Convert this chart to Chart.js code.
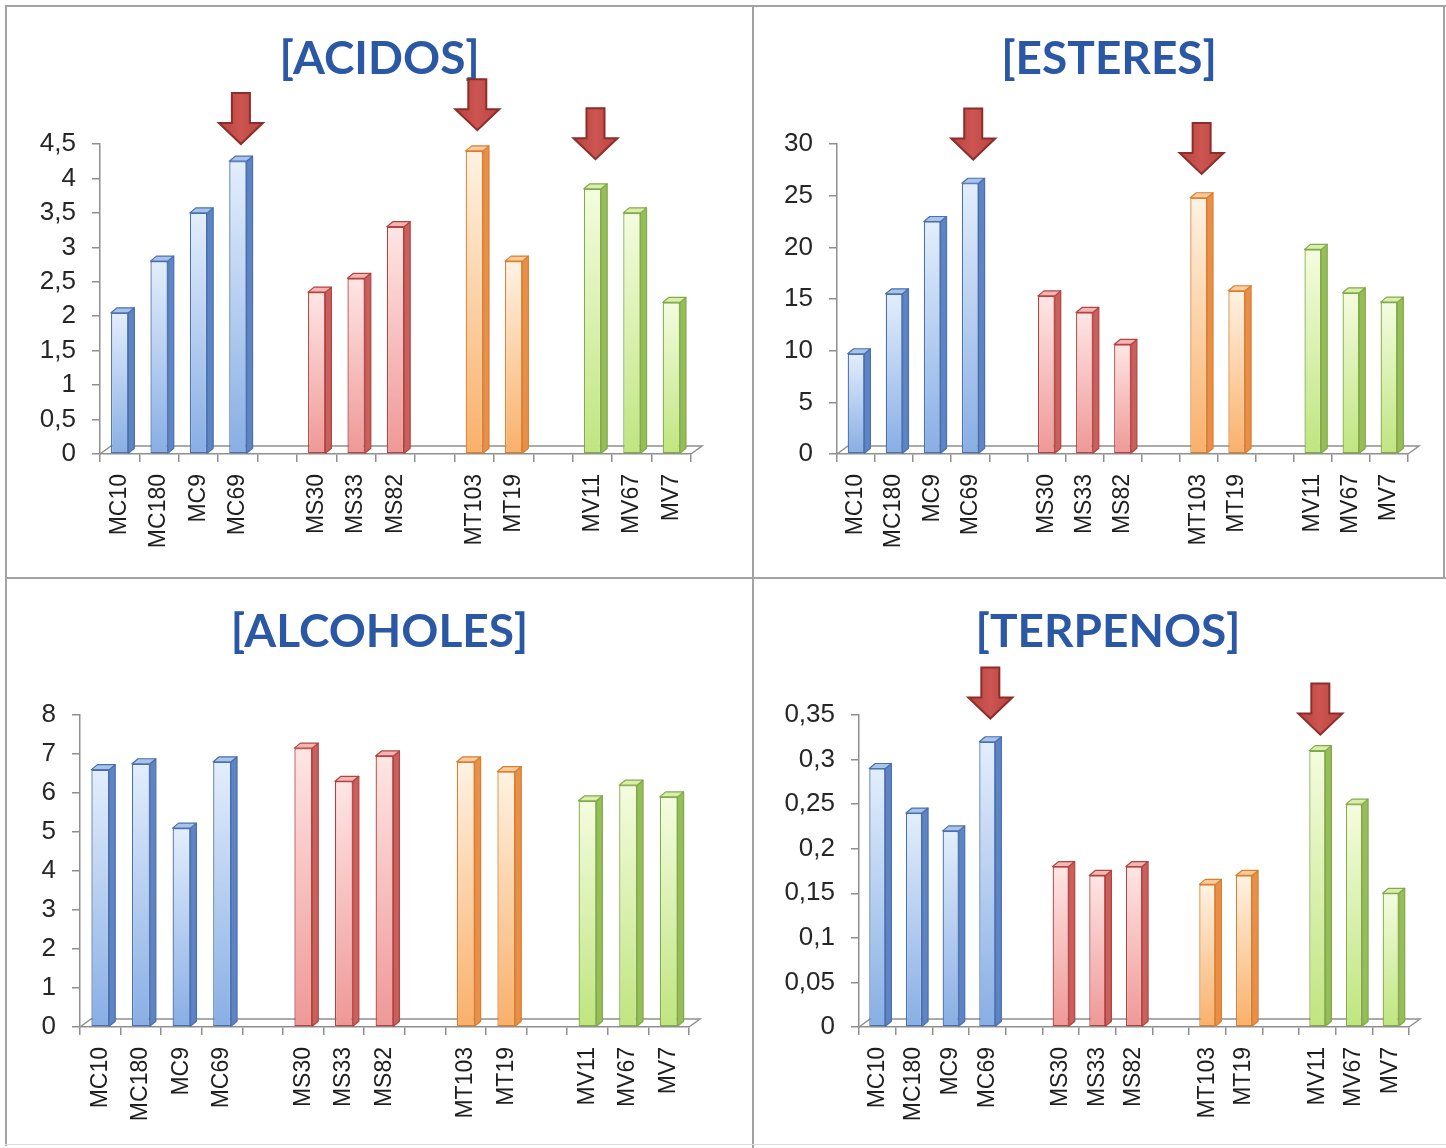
<!DOCTYPE html>
<html>
<head>
<meta charset="utf-8">
<script src="https://cdn.jsdelivr.net/npm/chart.js@4.4.1/dist/chart.umd.min.js"></script>
<style>
  html, body { margin: 0; padding: 0; background: #fff; overflow: hidden; }
  #page { position: relative; width: 1446px; height: 1148px; background: #fff; }
  .panel { position: absolute; }
  .panel canvas { display: block; }
  .rule { position: absolute; background: #a3a3a3; }
</style>
</head>
<body>
<div id="page">
  <div class="panel" style="left:7px;top:7px"><canvas id="acidos" width="745" height="570"></canvas></div>
  <div class="panel" style="left:754px;top:7px"><canvas id="esteres" width="690" height="570"></canvas></div>
  <div class="panel" style="left:7px;top:580px"><canvas id="alcoholes" width="745" height="566"></canvas></div>
  <div class="panel" style="left:754px;top:580px"><canvas id="terpenos" width="690" height="566"></canvas></div>

  <div class="rule" style="left:5px;top:5px;width:1441px;height:2px"></div>
  <div class="rule" style="left:5px;top:5px;width:2px;height:1141px"></div>
  <div class="rule" style="left:752px;top:5px;width:2px;height:1143px"></div>
  <div class="rule" style="left:5px;top:577px;width:1441px;height:2px"></div>
  <div class="rule" style="left:1443px;top:5px;width:2px;height:572px"></div>
  <div class="rule" style="left:5px;top:1144px;width:1441px;height:1px;background:#dcdcdc"></div>
</div>

<script>
// Strains, grouped by prefix; empty labels leave a gap between groups
const categories = ['MC10', 'MC180', 'MC9', 'MC69', '', 'MS30', 'MS33', 'MS82', '', 'MT103', 'MT19', '', 'MV11', 'MV67', 'MV7'];

// Concentrations per family of compounds
const acidos    = [2.05, 2.8, 3.5, 4.25, null, 2.35, 2.55, 3.3, null, 4.4, 2.8, null, 3.85, 3.5, 2.2];
const esteres   = [9.7, 15.5, 22.5, 26.2, null, 15.3, 13.7, 10.6, null, 24.8, 15.8, null, 19.8, 15.6, 14.7];
const alcoholes = [6.6, 6.75, 5.1, 6.8, null, 7.15, 6.3, 6.95, null, 6.8, 6.55, null, 5.8, 6.2, 5.9];
const terpenos  = [0.29, 0.24, 0.22, 0.32, null, 0.18, 0.17, 0.18, null, 0.16, 0.17, null, 0.31, 0.25, 0.15];

// Value-axis ranges: [max, step]
const acidosAxis    = [4.5, 0.5];
const esteresAxis   = [30, 5];
const alcoholesAxis = [8, 1];
const terpenosAxis  = [0.35, 0.05];

// Highlighted strains: [strain, level the arrow points to]
const acidosArrows   = [['MC69', 4.5], ['MT103', 4.7], ['MV11', 4.28]];
const esteresArrows  = [['MC69', 28.5], ['MT103', 27.1]];
const terpenosArrows = [['MC69', 0.346], ['MV11', 0.328]];

// Colour scheme per strain group
const palette = {
  MC: { light: '#e3eefc', dark: '#88aee4', side: '#5e84c4', top: '#a9c4ea', edge: '#4a70ae' },
  MS: { light: '#fee6e5', dark: '#ee9896', side: '#c8605d', top: '#f3b6b4', edge: '#b4433f' },
  MT: { light: '#fff2e3', dark: '#f9b06a', side: '#e89049', top: '#fbcb9c', edge: '#d97f30' },
  MV: { light: '#f4fcdf', dark: '#bfe57f', side: '#96be58', top: '#d8efac', edge: '#83a94a' }
};
const pal = label => palette[(label || '').slice(0, 2)] || palette.MC;

const depth = { dx: 6, dy: 5 };     // column side / top faces
const floorDepth = { dx: 11, dy: 8 };

function drawArrow(ctx, x, tip) {
  const shaftW = 18, shaftH = 30, headW = 44, headH = 21;
  ctx.save();
  ctx.beginPath();
  ctx.moveTo(x - shaftW / 2, tip - headH - shaftH);
  ctx.lineTo(x + shaftW / 2, tip - headH - shaftH);
  ctx.lineTo(x + shaftW / 2, tip - headH);
  ctx.lineTo(x + headW / 2, tip - headH);
  ctx.lineTo(x, tip);
  ctx.lineTo(x - headW / 2, tip - headH);
  ctx.lineTo(x - shaftW / 2, tip - headH);
  ctx.closePath();
  const g = ctx.createLinearGradient(x - headW / 2, 0, x + headW / 2, 0);
  g.addColorStop(0, '#b8433f');
  g.addColorStop(0.5, '#cc5551');
  g.addColorStop(1, '#b8433f');
  ctx.fillStyle = g;
  ctx.fill();
  ctx.lineWidth = 2;
  ctx.lineJoin = 'miter';
  ctx.strokeStyle = '#8c2d2a';
  ctx.stroke();
  ctx.restore();
}

const arrowMarks = { acidos: acidosArrows, esteres: esteresArrows, alcoholes: [], terpenos: terpenosArrows };

// Pseudo-3D columns: floor, side and top faces, plus highlight arrows
const columns3d = {
  id: 'columns3d',
  beforeDatasetsDraw(chart) {
    const { ctx, chartArea: a } = chart;
    ctx.save();
    ctx.strokeStyle = '#8f8f8f';
    ctx.lineWidth = 1.5;
    ctx.beginPath();
    ctx.moveTo(a.left, a.bottom);
    ctx.lineTo(a.left + floorDepth.dx, a.bottom - floorDepth.dy);
    ctx.lineTo(a.right + floorDepth.dx, a.bottom - floorDepth.dy);
    ctx.lineTo(a.right, a.bottom);
    ctx.stroke();
    ctx.restore();
  },
  afterDatasetsDraw(chart) {
    const ctx = chart.ctx;
    const meta = chart.getDatasetMeta(0);
    const data = chart.data.datasets[0].data;
    ctx.save();
    ctx.lineWidth = 1.2;
    ctx.lineJoin = 'round';
    meta.data.forEach((el, i) => {
      if (data[i] == null) return;
      const { x, y, base, width } = el.getProps(['x', 'y', 'base', 'width'], true);
      const p = pal(chart.data.labels[i]);
      const l = x - width / 2, r = x + width / 2;
      ctx.strokeStyle = p.edge;
      // right side face
      ctx.beginPath();
      ctx.moveTo(r, y);
      ctx.lineTo(r + depth.dx, y - depth.dy);
      ctx.lineTo(r + depth.dx, base - depth.dy);
      ctx.lineTo(r, base);
      ctx.closePath();
      ctx.fillStyle = p.side;
      ctx.fill();
      ctx.stroke();
      // top face
      ctx.beginPath();
      ctx.moveTo(l, y);
      ctx.lineTo(l + depth.dx, y - depth.dy);
      ctx.lineTo(r + depth.dx, y - depth.dy);
      ctx.lineTo(r, y);
      ctx.closePath();
      ctx.fillStyle = p.top;
      ctx.fill();
      ctx.stroke();
    });
    ctx.restore();
  },
  afterDraw(chart) {
    const list = arrowMarks[chart.canvas.id] || [];
    list.forEach(([label, level]) => {
      const i = chart.data.labels.indexOf(label);
      const x = chart.scales.x.getPixelForValue(i) + depth.dx / 2;
      const tip = chart.scales.y.getPixelForValue(level);
      drawArrow(chart.ctx, x, tip);
    });
  }
};

const fmt = v => String(Number(v.toFixed(2))).replace('.', ',');

function makeChart(id, title, values, axis, box) {
  const [max, step] = axis;
  return new Chart(document.getElementById(id), {
    type: 'bar',
    data: {
      labels: categories,
      datasets: [{
        data: values,
        backgroundColor: c => {
          const p = pal(categories[c.dataIndex]);
          const area = c.chart.chartArea;
          if (!area || c.raw == null || !c.chart.scales.y) return p.light;
          const top = c.chart.scales.y.getPixelForValue(c.raw);
          const g = c.chart.ctx.createLinearGradient(0, top, 0, area.bottom);
          g.addColorStop(0, p.light);
          g.addColorStop(1, p.dark);
          return g;
        },
        borderColor: c => pal(categories[c.dataIndex]).edge,
        borderWidth: 1.3,
        borderSkipped: false,
        barPercentage: 1,
        categoryPercentage: 0.44
      }]
    },
    options: {
      responsive: false,
      animation: false,
      devicePixelRatio: 1,
      layout: { padding: { left: box.padL, right: 0, top: 0, bottom: 0 } },
      plugins: {
        legend: { display: false },
        tooltip: { enabled: false },
        title: {
          display: true,
          text: title,
          color: '#2b58a4',
          font: { family: 'Lato', size: 46, weight: 'bold', lineHeight: 1 },
          padding: { top: box.titleTop, bottom: box.titleBottom }
        }
      },
      scales: {
        x: {
          afterFit: s => { s.height = box.xH; },
          grid: { display: true, drawOnChartArea: false, drawTicks: true, tickLength: 8, color: '#8f8f8f', lineWidth: 1.5, offset: true },
          border: { display: true, color: '#8f8f8f', width: 1.5 },
          ticks: {
            autoSkip: false,
            maxRotation: 90,
            minRotation: 90,
            padding: 12,
            color: '#1e1e1e',
            font: { family: 'Liberation Sans', size: 23 }
          }
        },
        y: {
          min: 0,
          max: max,
          afterFit: s => { s.width = box.yW; },
          grid: { display: true, drawOnChartArea: false, drawTicks: true, tickLength: 8, color: '#8f8f8f', lineWidth: 1.5 },
          border: { display: true, color: '#8f8f8f', width: 1.5 },
          ticks: {
            stepSize: step,
            padding: 16,
            color: '#262626',
            font: { family: 'Liberation Sans', size: 26 },
            callback: fmt
          }
        },
        // empty margin on the right of the plot
        gutter: {
          type: 'linear',
          position: 'right',
          display: true,
          afterFit: s => { s.width = box.rightW; },
          grid: { display: false },
          border: { display: false },
          ticks: { display: false }
        }
      }
    },
    plugins: [columns3d]
  });
}

makeChart('acidos', '[ACIDOS]', acidos, acidosAxis,
  { padL: 0, yW: 93, rightW: 61, xH: 123, titleTop: 29, titleBottom: 62 });
makeChart('esteres', '[ESTERES]', esteres, esteresAxis,
  { padL: 20, yW: 63, rightW: 36, xH: 123, titleTop: 29, titleBottom: 62 });
makeChart('alcoholes', '[ALCOHOLES]', alcoholes, alcoholesAxis,
  { padL: 0, yW: 73, rightW: 63, xH: 119, titleTop: 29, titleBottom: 60 });
makeChart('terpenos', '[TERPENOS]', terpenos, terpenosAxis,
  { padL: 18, yW: 87, rightW: 35, xH: 119, titleTop: 29, titleBottom: 60 });
</script>
</body>
</html>
